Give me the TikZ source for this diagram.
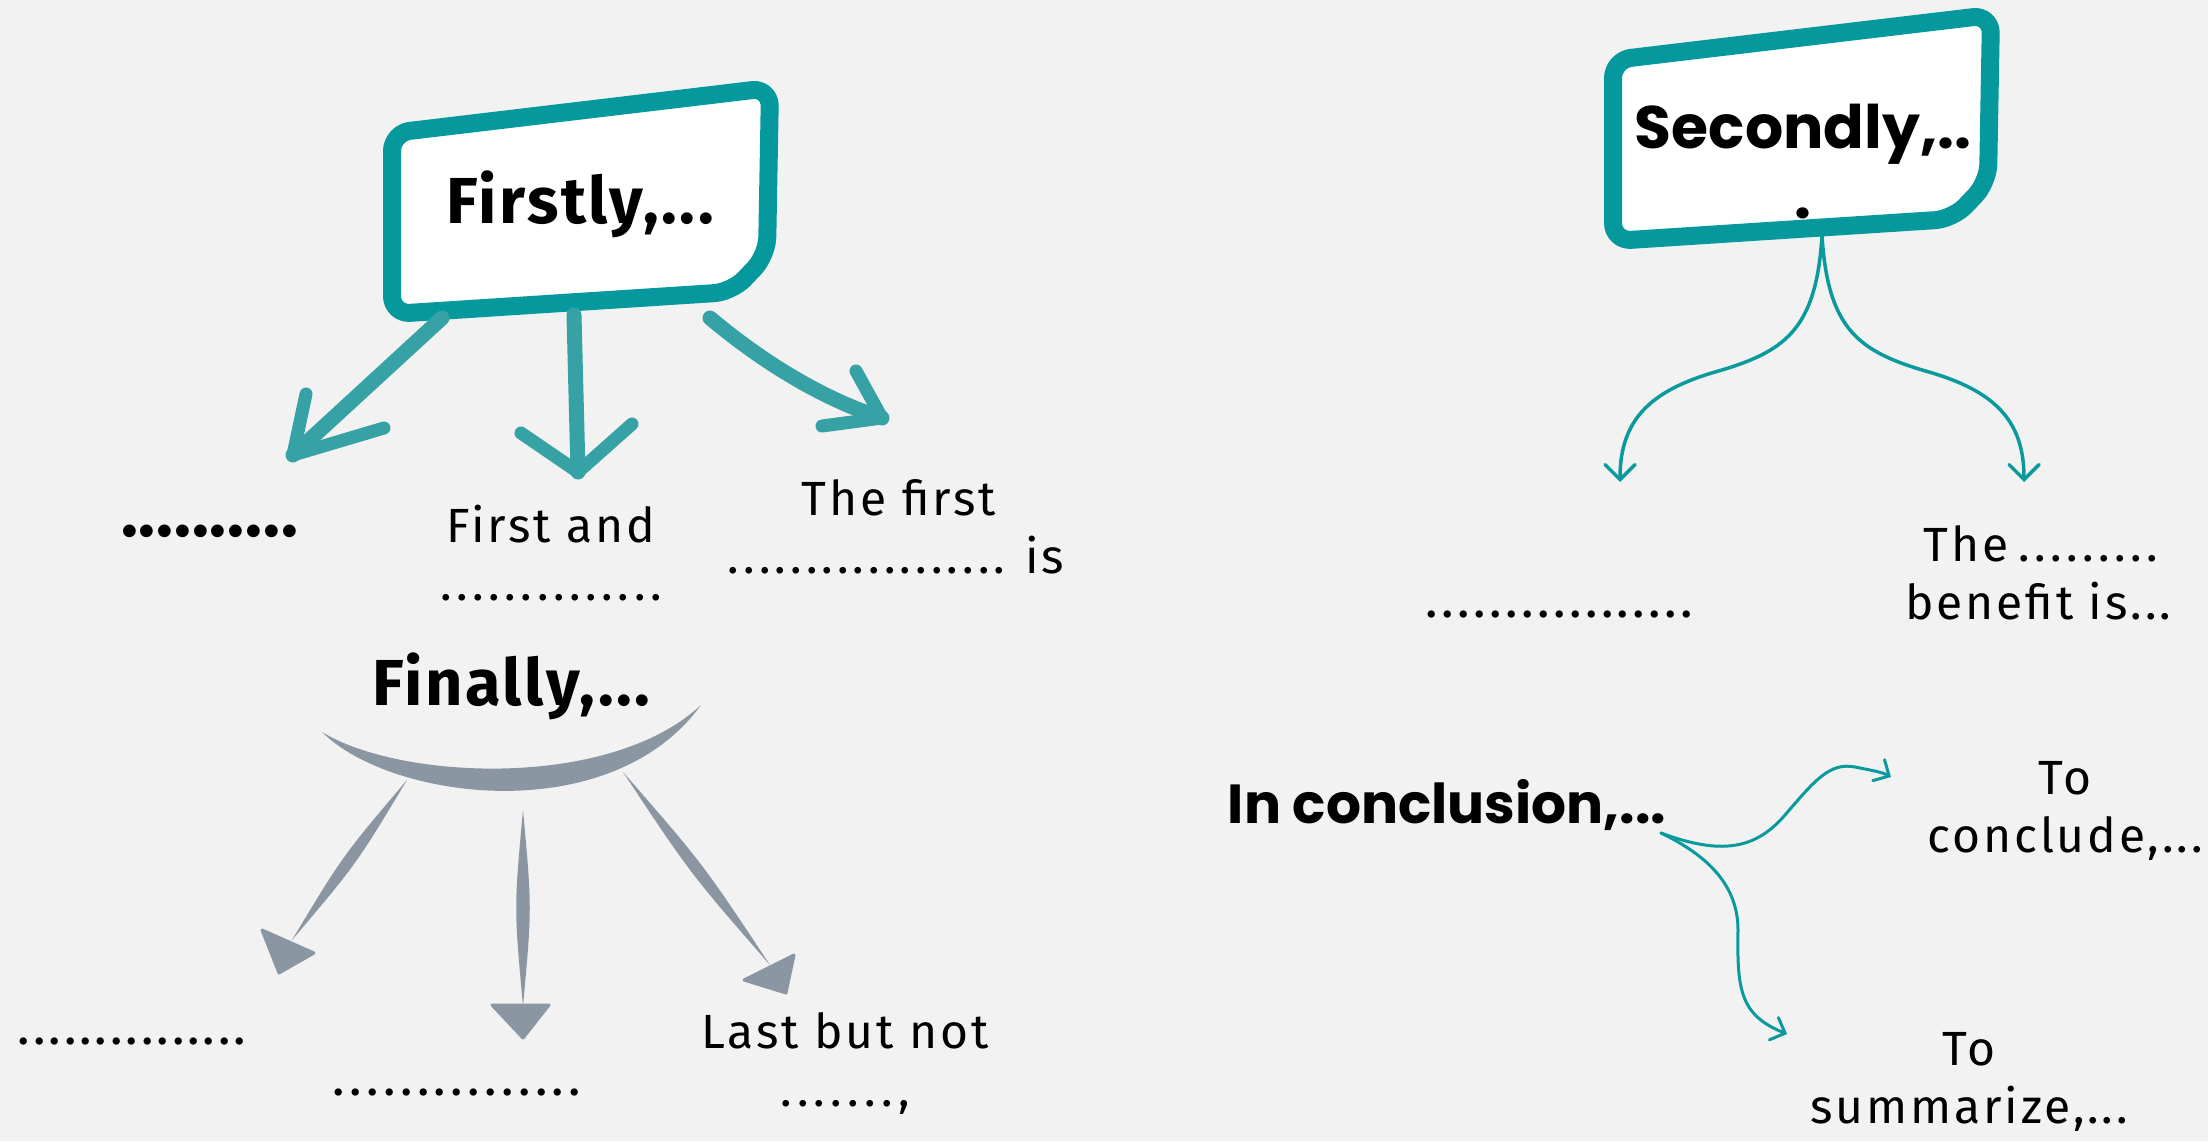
\documentclass[tikz,border=0pt]{standalone}
\usepackage{fontspec}
\usetikzlibrary{arrows.meta,calc}
\newfontfamily\txtfont{Fira Sans}[LetterSpace=6]
\newfontfamily\dotfont{Fira Sans}
\newfontfamily\firafont{Fira Sans}[LetterSpace=4]
\newfontfamily\popfont{Poppins}
\definecolor{bgc}{HTML}{F2F2F2}
\definecolor{tealbox}{HTML}{05999E}
\definecolor{tealarr}{HTML}{36A2A5}
\definecolor{tealthin}{HTML}{0A999D}
\definecolor{grayarr}{HTML}{8A96A2}
\newcommand\dotglyph{\makebox[0pt]{\dotfont .}}
\newcommand\dotrow[2]{\makebox[#2][s]{\dotglyph\foreach\ii in {2,...,#1}{\hfill\dotglyph}}}
\newcommand\dotcomma{\makebox[118pt][s]{\dotglyph\hfill\dotglyph\hfill\dotglyph\hfill\dotglyph\hfill\dotglyph\hfill\dotglyph\hfill\dotglyph\hfill\makebox[0pt]{\dotfont ,}}}
\newcommand\taper[3]{\fill[grayarr] (#1) .. controls ($(#1)!0.5!(#2)!#3!90:(#2)$) .. (#2) .. controls ($(#1)!0.5!(#2)!#3!-90:(#2)$) .. (#1);}
\tikzset{
  boxline/.style={draw=tealbox, fill=white, line width=18pt, rounded corners=18pt, line join=round},
  sketchbox/.pic={\path[boxline] (392,200) -- (392,133) -- (770,88) -- (767,255) -- (732,292) -- (392,314) -- cycle;},
  thickarr/.style={draw=tealarr, line width=15pt, line cap=round, line join=round},
  barbline/.style={draw=tealarr, line width=13pt, line cap=round, line join=round},
  thinarr/.style={draw=tealthin, line width=3.5pt, line cap=round, -{Straight Barb[length=15pt,width=30pt,line cap=round]}},
  thinarrs/.style={draw=tealthin, line width=3pt, line cap=round, -{Straight Barb[length=12pt,width=24pt,line cap=round]}},
  grayhead/.style={fill=grayarr, draw=grayarr, line width=3pt, line join=round},
  txt/.style={font=\txtfont\fontsize{48pt}{58pt}\selectfont, align=center, anchor=base, inner sep=0pt},
  dotsr/.style={font=\fontsize{52pt}{58pt}\selectfont, anchor=base, inner sep=0pt},
  dotsb/.style={font=\bfseries\fontsize{70pt}{70pt}\selectfont, anchor=base, inner sep=0pt},
  hbig/.style={font=\firafont\bfseries\fontsize{65pt}{70pt}\selectfont, anchor=base, inner sep=0pt},
  popb/.style={font=\popfont\bfseries\fontsize{60pt}{70pt}\selectfont, align=center, anchor=base, inner sep=0pt},
  popc/.style={font=\popfont\bfseries\fontsize{55pt}{60pt}\selectfont, anchor=base, inner sep=0pt},
}
\begin{document}
\begin{tikzpicture}[x=1pt,y=-1pt]
\fill[bgc] (0,0) rectangle (2208,1141);
\useasboundingbox (0,0) rectangle (2208,1141);

% boxes
\pic at (0,0) {sketchbox};
\pic at (1221,-73) {sketchbox};
\node[hbig] (firstly) at (580,223) {Firstly,...};
\node[popb] (secondly) at (1803,218) {Secondly,..\\.};

% thick arrows from Firstly
\coordinate (fL0) at (442,318); \coordinate (fL1) at (293,455);
\coordinate (fLa) at (306,394); \coordinate (fLb) at (384,428);
\draw[thickarr] (fL0) -- (fL1);
\draw[barbline] (fLa) -- (fL1) -- (fLb);
\coordinate (fM0) at (574,315); \coordinate (fM1) at (578,472);
\coordinate (fMa) at (521,433); \coordinate (fMb) at (632,424);
\draw[thickarr] (fM0) -- (fM1);
\draw[barbline] (fMa) -- (fM1) -- (fMb);
\coordinate (fR0) at (710,318); \coordinate (fR1) at (882,418);
\coordinate (fRa) at (856,371); \coordinate (fRb) at (822,426);
\draw[thickarr] (fR0) .. controls (760,360) and (820,398) .. (fR1);
\draw[barbline] (fRa) -- (fR1) -- (fRb);

% texts under Firstly
\node[dotsb] (d1) at (209.5,536.5) {\dotrow{10}{160pt}};
\node[txt] (fa) at (551,600) {First and\\\dotrow{14}{210pt}};
\node[txt] (tf) at (899,573) {The first\\\dotrow{18}{266pt}\hspace{26pt}is};

% Finally
\node[hbig] (finally) at (511,705) {Finally,...};
\fill[grayarr] (322,732) .. controls (390,800) and (610,830) .. (701,705) .. controls (610,790) and (400,780) .. (322,732);
\coordinate (g1s) at (407,780); \coordinate (g1e) at (292,940);
\coordinate (g2s) at (523,810); \coordinate (g2e) at (523,1006);
\coordinate (g3s) at (623,772); \coordinate (g3e) at (770,965);
\taper{g1s}{g1e}{8pt}
\taper{g2s}{g2e}{9pt}
\taper{g3s}{g3e}{8pt}
\path[grayhead] (262,930) -- (314,953) -- (279,973) -- cycle;
\path[grayhead] (492,1005) -- (549,1005) -- (523,1038) -- cycle;
\path[grayhead] (794,955) -- (786,993) -- (744,980) -- cycle;
\node[dotsr] (d3) at (132,1044) {\dotrow{15}{216pt}};
\node[dotsr] (d4) at (457,1095) {\dotrow{15}{236pt}};
\node[txt] (lb) at (845,1106) {Last but not\\\dotcomma};

% Secondly arrows
\coordinate (s0) at (1822,236); \coordinate (s1) at (1620,482); \coordinate (s2) at (2024,482);
\draw[thinarr] (s0) .. controls (1816,330) and (1785,352) .. (1715,372) .. controls (1650,391) and (1620,420) .. (s1);
\draw[thinarr] (s0) .. controls (1828,330) and (1859,352) .. (1929,372) .. controls (1994,391) and (2024,420) .. (s2);
\node[dotsr] (d2) at (1559.5,617) {\dotrow{17}{255pt}};
\node[txt] (tb) at (2038,619) {The \dotrow{9}{128pt}\\benefit is...};

% conclusion
\node[popc] (concl) at (1447,823) {In conclusion,...};
\coordinate (c0) at (1661,833); \coordinate (c1) at (1891,777); \coordinate (c2) at (1787,1034);
\draw[thinarrs] (c0) .. controls (1720,855) and (1755,850) .. (1785,815) .. controls (1815,780) and (1830,762) .. (1855,767) .. controls (1870,770) and (1882,772) .. (c1);
\draw[thinarrs] (c0) .. controls (1700,852) and (1738,880) .. (1738,930) .. controls (1737,990) and (1740,1015) .. (c2);
\node[txt] (tc) at (2065,852) {To\\conclude,...};
\node[txt] (ts) at (1969,1123) {To\\summarize,...};
\end{tikzpicture}
\end{document}
